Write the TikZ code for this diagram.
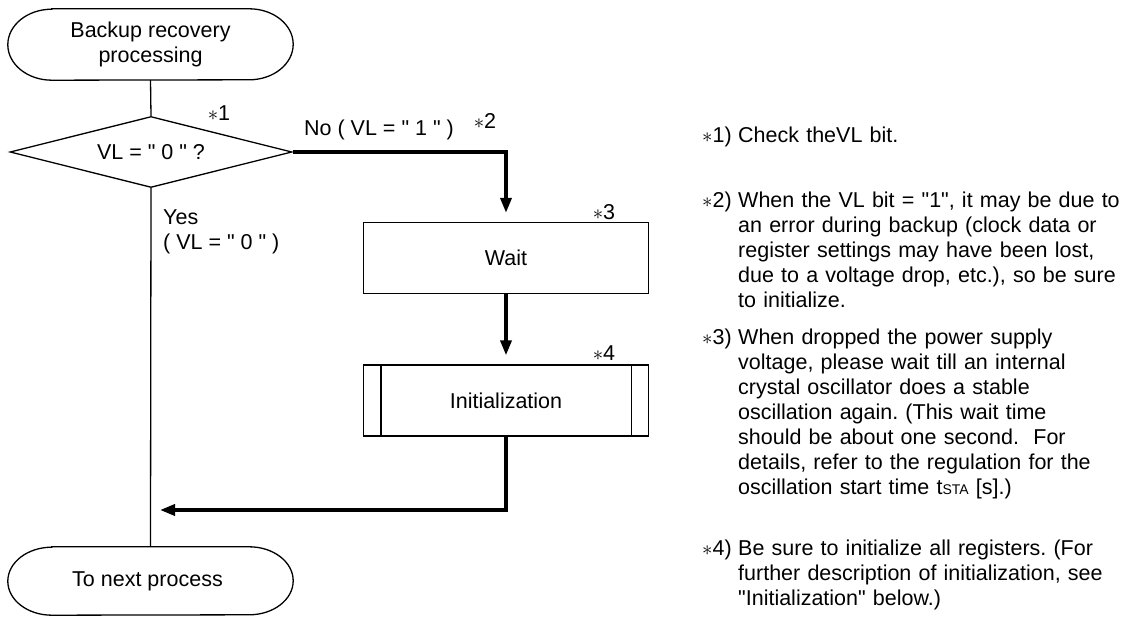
\documentclass[tikz,border=0pt]{standalone}
\usepackage{fontspec}
\setmainfont{Liberation Sans}[Ligatures=TeXOff]
\usepackage{tikz}
\usetikzlibrary{
  arrows.meta,
  positioning,
  shapes.geometric,
  calc
}
\frenchspacing
\newcommand{\flowfont}{\fontsize{21.5pt}{25.5pt}\selectfont}
\newcommand{\notefont}{\fontsize{21.5pt}{25pt}\selectfont}
\newcommand{\refmark}{\(\ast\)}
\tikzset{
  terminal/.style={
    align=center,
    inner sep=0pt,
    minimum width=285pt,
    minimum height=71pt
  },
  decision/.style={
    diamond,
    draw,
    line width=1.3pt,
    aspect=4,
    inner sep=0pt,
    minimum width=282pt,
    minimum height=71pt
  },
  process/.style={
    draw,
    line width=1.3pt,
    inner sep=0pt,
    minimum width=285pt,
    minimum height=71pt
  },
  flow/.style={
    line width=1.3pt
  },
  branch/.style={
    -{Triangle[length=15pt,width=11pt]},
    line width=3.5pt,
    shorten >=9pt
  },
  tag/.style={
    inner sep=0pt
  },
  notelabel/.style={
    anchor=base west,
    inner sep=0pt
  },
  notetext/.style={
    anchor=base west,
    inner sep=0pt,
    align=left,
    text width=385pt,
    font=\notefont
  }
}

\begin{document}
\begin{tikzpicture}[x=1pt,y=-1pt,font=\flowfont]

  \useasboundingbox (0,0) rectangle (1128,617);

  \node[terminal] at (150.5,44.5) (start) {
    Backup recovery\\processing
  };

  \node[decision] at (151,152) (check) {
    VL = " 0 " ?
  };

  \node[process] at (506,258) (wait) {
    Wait
  };

  \node[process] at (506,400.5) (init) {
    Initialization
  };

  \node[terminal,minimum height=68pt] at (150.5,581) (next) {
    To next process
  };

  \coordinate (merge) at (160,510);

  \foreach \t/\r in {start/35.5,next/34} {
    \draw[flow]
    ([xshift=44pt]\t.north west) --
    ([xshift=-44pt]\t.north east)
    arc[start angle=90,end angle=-90,x radius=44pt,y radius=\r pt] --
    ([xshift=44pt]\t.south west)
    arc[start angle=270,end angle=90,x radius=44pt,y radius=\r pt] --
    cycle;
  }

  \draw[flow]
  ([xshift=18pt]init.north west) --
  ([xshift=18pt]init.south west);

  \draw[flow]
  ([xshift=-18pt]init.north east) --
  ([xshift=-18pt]init.south east);

  \draw[flow] (start.south) -- (check.north);
  \draw[flow] (check.south) -- (next.north);

  \draw[branch] (check.east) -| (wait.north);
  \draw[branch] (wait.south) -- (init.north);
  \draw[branch,shorten >=0pt] (init.south) |- (merge);

  \node[tag] at (219,113) (mark1) {\refmark 1};
  \node[tag] at (379,130) (nolabel) {No ( VL = " 1 " )};
  \node[tag] at (485,121) (mark2) {\refmark 2};
  \node[
    tag,
    anchor=west,
    align=left
  ] at (163,232) (yeslabel) {
    Yes\\( VL = " 0 " )
  };
  \node[tag] at (604,212) (mark3) {\refmark 3};
  \node[tag] at (604,353) (mark4) {\refmark 4};

  \node[notelabel] at (702,142.5) (note1label) {\refmark 1)};
  \node[notetext] at (738,142.5) (note1) {
    Check theVL bit.
  };

  \node[notelabel] at (702,207.5) (note2label) {\refmark 2)};
  \node[notetext] at (738,207.5) (note2) {
    When the VL bit = "1", it may be due to\\
    an error during backup (clock data or\\
    register settings may have been lost,\\
    due to a voltage drop, etc.), so be sure\\
    to initialize.
  };

  \node[notelabel] at (702,344.5) (note3label) {\refmark 3)};
  \node[notetext] at (738,344.5) (note3) {
    When dropped the power supply\\
    voltage, please wait till an internal\\
    crystal oscillator does a stable\\
    oscillation again. (This wait time\\
    should be about one second. \ For\\
    details, refer to the regulation for the\\
    oscillation start time t{\fontsize{14pt}{14pt}\selectfont STA} [s].)
  };

  \node[notelabel] at (702,555.5) (note4label) {\refmark 4)};
  \node[notetext] at (738,555.5) (note4) {
    Be sure to initialize all registers. (For\\
    further description of initialization, see\\
    "Initialization" below.)
  };

\end{tikzpicture}
\end{document}
